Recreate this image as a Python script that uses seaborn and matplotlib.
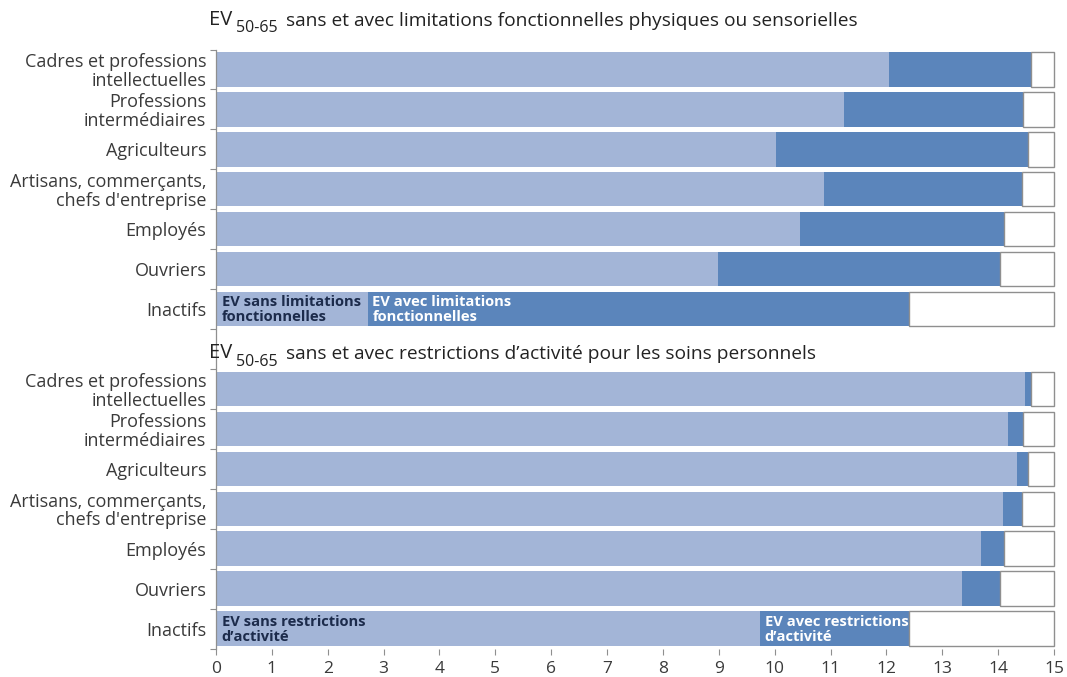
import matplotlib
matplotlib.use("Agg")
import matplotlib.pyplot as plt
import seaborn as sns
import pandas as pd

# Socio-professional categories (same order in both panels)
categories = [
    "Cadres et professions\nintellectuelles",
    "Professions\nintermédiaires",
    "Agriculteurs",
    "Artisans, commerçants,\nchefs d'entreprise",
    "Employés",
    "Ouvriers",
    "Inactifs",
]

# Life expectancy between 50 and 65 (years)
ev_total = [14.59, 14.44, 14.53, 14.43, 14.10, 14.03, 12.40]
ev_sans_limitations = [12.05, 11.24, 10.02, 10.88, 10.45, 8.99, 2.72]
ev_sans_restrictions = [14.48, 14.18, 14.34, 14.09, 13.69, 13.35, 9.74]

x_ticks = list(range(0, 16))
x_max = 15

panel_titles = [
    "sans et avec limitations fonctionnelles physiques ou sensorielles",
    "sans et avec restrictions d’activité pour les soins personnels",
]
inner_labels = [
    ("EV sans limitations\nfonctionnelles", "EV avec limitations\nfonctionnelles"),
    ("EV sans restrictions\nd’activité", "EV avec restrictions\nd’activité"),
]

LIGHT = "#a3b5d7"
DARK = "#5b85bb"
EDGE = "#8f8f8f"
TEXT = "#3a3a3a"
NAVY = "#1c2b4b"

sns.set_style("white")
plt.rcParams["font.family"] = ["Open Sans", "DejaVu Sans"]

# Both panels share one axis: rows 0-6 (top), row 7 holds the second title, rows 8-14 (bottom)
rows = []
for panel, sans in enumerate([ev_sans_limitations, ev_sans_restrictions]):
    for i, cat in enumerate(categories):
        rows.append({"pos": panel * 8 + i, "label": cat,
                     "total": ev_total[i], "sans": sans[i]})
df = pd.DataFrame(rows)

fig = plt.figure(figsize=(10.67, 6.77), dpi=100)
ax = fig.add_axes([216 / 1067, 1 - 648.5 / 677, (1054 - 216) / 1067, 599 / 677])

BAR_H = 0.86
sns.barplot(data=df, x="total", y="pos", orient="y", native_scale=True,
            color=DARK, width=BAR_H, errorbar=None, saturation=1,
            linewidth=0, edgecolor="none", ax=ax)
sns.barplot(data=df, x="sans", y="pos", orient="y", native_scale=True,
            color=LIGHT, width=BAR_H, errorbar=None, saturation=1,
            linewidth=0, edgecolor="none", ax=ax)
# Remaining span up to 15 years, outlined
ax.barh(df["pos"], x_max - df["total"], left=df["total"], height=BAR_H,
        color="white", edgecolor=EDGE, linewidth=1.0, clip_on=False, zorder=3)

ax.set_xlim(0, x_max)
ax.set_ylim(14.5, -0.5)
ax.set_xlabel("")
ax.set_ylabel("")

ax.set_yticks(df["pos"].tolist(), df["label"].tolist())
boundaries = [p - 0.5 for p in range(0, 8)] + [p - 0.5 for p in range(8, 16)]
ax.set_yticks(boundaries, minor=True)
ax.tick_params(axis="y", which="major", length=0, pad=7, labelsize=13,
               labelcolor=TEXT)
ax.tick_params(axis="y", which="minor", length=4, width=0.8, color=EDGE,
               direction="out", left=True)
for lab in ax.get_yticklabels():
    lab.set_linespacing(1.05)
    lab.set_ha("right")

ax.set_xticks(x_ticks)
ax.tick_params(axis="x", which="major", length=4, width=0.8, color=EDGE,
               direction="out", bottom=True, pad=5, labelsize=12.5,
               labelcolor=TEXT)

for side in ["top", "right", "bottom"]:
    ax.spines[side].set_visible(False)
ax.spines["left"].set_color(EDGE)
ax.spines["left"].set_linewidth(0.9)

# Panel titles: EV with subscript 50-65
for title, y_base in zip(panel_titles, [-1.125, 7.225]):
    ev = ax.text(-0.125, y_base, "EV", fontsize=14.5, color="#222222",
                 va="baseline", ha="left")
    sub = ax.annotate("50-65", xy=(1, 0), xycoords=ev, xytext=(2.5, -5),
                      textcoords="offset points", fontsize=11.5,
                      color="#222222", va="bottom", ha="left")
    ax.annotate(title, xy=(1, 0), xycoords=(sub, ev), xytext=(6, 0),
                textcoords="offset points", fontsize=13.8, color="#222222",
                va="bottom", ha="left")

# Legend-like labels inside the "Inactifs" bars
for panel, sans in enumerate([ev_sans_limitations, ev_sans_restrictions]):
    pos = panel * 8 + 6
    lbl_sans, lbl_avec = inner_labels[panel]
    ax.text(0.1, pos + 0.02, lbl_sans, fontsize=10.6, fontweight="bold",
            color=NAVY, va="center", ha="left", linespacing=1.1, zorder=5)
    ax.text(sans[6] + 0.08, pos + 0.02, lbl_avec, fontsize=10.6,
            fontweight="bold", color="white", va="center", ha="left",
            linespacing=1.1, zorder=5)

fig.savefig("out.png", dpi=100)
